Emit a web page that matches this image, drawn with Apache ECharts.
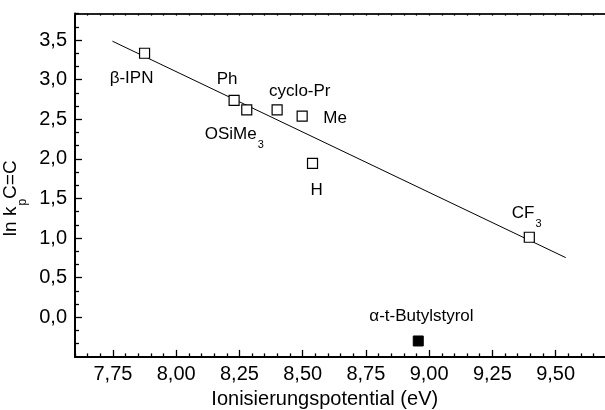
<!DOCTYPE html>
<html><head><meta charset="utf-8">
<script src="https://cdn.jsdelivr.net/npm/echarts@6/dist/echarts.min.js"></script>
<style>html,body{margin:0;padding:0;background:#fff}#c{width:605px;height:410px}</style>
</head><body><div id="c"></div>
<script>
// ---- data ----
const labels = ['β-IPN', 'Ph', 'OSiMe{s|3}', 'cyclo-Pr', 'Me', 'H', 'CF{s|3}'];
const ipValues = [7.875, 8.229, 8.279, 8.399, 8.498, 8.539, 9.396];
const lnkValues = [3.333, 2.737, 2.617, 2.617, 2.539, 1.944, 1.010];
const refLabel = ['α-t-Butylstyrol'];
const refIp = [8.957];
const refLnk = [-0.299];
const fitIp = [7.748, 9.540];
const fitLnk = [3.485, 0.753];
const xTicks = [7.75, 8.00, 8.25, 8.50, 8.75, 9.00, 9.25, 9.50];
const yTicks = [0.0, 0.5, 1.0, 1.5, 2.0, 2.5, 3.0, 3.5];

// ---- layout ----
const labelOffsets = [[-13, 27], [-7, -19.5], [-12.5, 26], [22.7, -17], [33, 4], [4, 28.4], [-2.6, -22.6]];
const refOffsets = [[3.2, -23.2]];
const X_MIN = 7.6, X_MAX = 9.8, Y_MIN = -0.5, Y_MAX = 23 / 6;
const FONT = 'Liberation Sans';

const xAll = [], xMinor = [];
for (let i = 152; i <= 196; i++) {
  const v = +(i * 0.05).toFixed(2);
  xAll.push(v);
  if (i % 5 !== 0) xMinor.push(v);
}
const xMajorTicks = xAll.filter((v, i) => (i + 152) % 5 === 0);
const yMinor = [];
for (let i = -3; i <= 23; i++) {
  if (i % 3 !== 0) yMinor.push(i / 6);
}

const rich = {
  n: {fontSize: 17, fontFamily: FONT, color: '#000', lineHeight: 20, verticalAlign: 'top'},
  s: {fontSize: 11, fontFamily: FONT, color: '#000', lineHeight: 12, padding: [14, 0, 0, 1], verticalAlign: 'top'}
};
function wrap(t) {
  return t.split(/(\{s\|[^}]*\})/).filter(p => p).map(p => p.startsWith('{s|') ? p : '{n|' + p + '}').join('');
}

const xCommon = {type: 'value', min: X_MIN, max: X_MAX, splitLine: {show: false}, silent: true};
const yCommon = {type: 'value', min: Y_MIN, max: Y_MAX, splitLine: {show: false}, silent: true};
const tickStyle = {color: '#000', width: 1.3};

const option = {
  animation: false,
  backgroundColor: '#fff',
  grid: {left: 75, top: 13.6, width: 556.5, height: 343.3, containLabel: false, outerBoundsMode: 'none'},
  xAxis: [
    Object.assign({}, xCommon, {
      position: 'bottom',
      axisLine: {onZero: false, lineStyle: {color: '#000', width: 2}},
      axisTick: {inside: true, length: 7, customValues: xMajorTicks, lineStyle: tickStyle},
      axisLabel: {customValues: xTicks, formatter: v => v.toFixed(2).replace('.', ','), color: '#000', fontSize: 20, fontFamily: FONT, margin: 8},
      name: 'Ionisierungspotential (eV)', nameLocation: 'middle', nameGap: 32,
      nameTextStyle: {color: '#000', fontSize: 20, fontFamily: FONT, padding: [0, 57, 0, 0]}
    }),
    Object.assign({}, xCommon, {
      position: 'bottom',
      axisLine: {show: false, onZero: false},
      axisTick: {inside: true, length: 3.5, customValues: xMinor, lineStyle: tickStyle},
      axisLabel: {show: false}
    }),
    Object.assign({}, xCommon, {
      position: 'top',
      axisLine: {onZero: false, lineStyle: {color: '#222', width: 2}},
      axisTick: {inside: true, length: 2, customValues: xAll, lineStyle: tickStyle},
      axisLabel: {show: false}
    })
  ],
  yAxis: [
    Object.assign({}, yCommon, {
      position: 'left',
      axisLine: {onZero: false, lineStyle: {color: '#000', width: 2}},
      axisTick: {inside: true, length: 7, customValues: yTicks, lineStyle: tickStyle},
      axisLabel: {customValues: yTicks, formatter: v => v.toFixed(1).replace('.', ','), color: '#000', fontSize: 20, fontFamily: FONT, margin: 8},
      name: '{n|ln k}{s|p}{n|C=C}', nameLocation: 'middle', nameGap: 38, nameRotate: 90,
      nameTextStyle: {
        padding: [0, 26, 0, 0],
        rich: {
          n: {fontSize: 19, fontFamily: FONT, color: '#000', lineHeight: 22, verticalAlign: 'top'},
          s: {fontSize: 12, fontFamily: FONT, color: '#000', lineHeight: 12, padding: [15, 0, 0, 1], verticalAlign: 'top'}
        }
      }
    }),
    Object.assign({}, yCommon, {
      position: 'left',
      axisLine: {show: false, onZero: false},
      axisTick: {inside: true, length: 4, customValues: yMinor, lineStyle: tickStyle},
      axisLabel: {show: false}
    })
  ],
  series: [
    {
      type: 'line', xAxisIndex: 0, yAxisIndex: 0, silent: true, z: 1,
      data: fitIp.map((x, i) => [x, fitLnk[i]]),
      showSymbol: false, symbol: 'none',
      lineStyle: {color: '#000', width: 1}
    },
    {
      type: 'scatter', xAxisIndex: 0, yAxisIndex: 0, silent: true, z: 3,
      symbol: 'rect', symbolSize: 10,
      itemStyle: {color: '#fff', borderColor: '#000', borderWidth: 1.2, opacity: 1},
      label: {show: true, position: 'inside', rich: rich},
      data: ipValues.map((x, i) => ({
        value: [x, lnkValues[i]],
        label: {formatter: wrap(labels[i]), offset: labelOffsets[i]}
      }))
    },
    {
      type: 'scatter', xAxisIndex: 0, yAxisIndex: 0, silent: true, z: 3,
      symbol: 'rect', symbolSize: 10,
      itemStyle: {color: '#000', borderColor: '#000', borderWidth: 1, opacity: 1},
      label: {show: true, position: 'inside', rich: rich},
      data: refIp.map((x, i) => ({
        value: [x, refLnk[i]],
        label: {formatter: wrap(refLabel[i]), offset: refOffsets[i]}
      }))
    }
  ]
};
const chart = echarts.init(document.getElementById('c'), null, {renderer: 'canvas'});
chart.setOption(option);
</script>
</body></html>
